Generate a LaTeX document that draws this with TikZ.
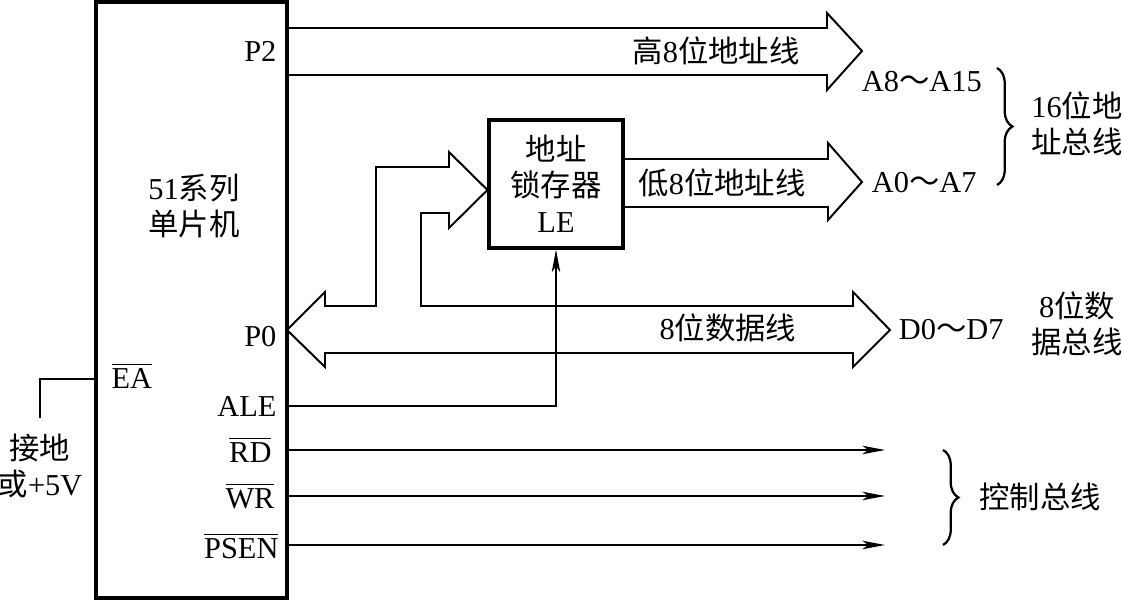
\documentclass[tikz,border=0pt]{standalone}
\usepackage{fontspec}
\setmainfont{Liberation Serif}
\newfontfamily\cjk{Noto Sans CJK SC}
\usetikzlibrary{arrows.meta,positioning,calc,decorations.pathreplacing}
\newcommand{\zh}[1]{{\cjk #1}}
\newcommand{\ovbar}[1]{$\overline{\hbox{#1}}$}
\tikzset{
  % microcontroller outline
  chipbox/.style={draw, line width=1.5pt, inner sep=0pt, outer sep=0pt},
  % address latch
  latchbox/.style={draw, line width=1.1pt, minimum width=1.675cm, minimum height=1.6cm,
                   align=center, inner sep=0pt, font=\fontsize{10.8}{12.8}\selectfont},
  % pin name inside the chip
  pinlabel/.style={anchor=east, inner sep=0pt},
  % outline of a wide bus arrow
  busline/.style={line width=0.7pt, line join=miter},
  % single signal wire
  sigline/.style={line width=0.7pt},
  sigarrow/.style={sigline, -{Stealth[length=8pt,width=3pt,inset=2pt]}},
  % curly bracket
  busbrace/.style={decorate, decoration={brace, amplitude=5.5pt}, line width=0.8pt},
}
\begin{document}
\begin{tikzpicture}[x=0.0125cm, y=-0.0125cm, font=\fontsize{10.8}{12.8}\selectfont]
  \useasboundingbox (0,0) rectangle (1122,601);
  % chip and latch
  \node[chipbox, minimum width=2.3875cm, minimum height=7.45cm] (mcu) at (191.5,300) {};
  \node[latchbox] (latch) at (556,184) {\zh{地址}\\\zh{锁存器}\\LE};
  \node[align=center, font=\fontsize{10.8}{13.1}\selectfont] (mcuname) at (194,206) {51\zh{系列}\\\zh{单片机}};

  % pin names
  \node[pinlabel] (lp2) at (277,51) {P2};
  \node[pinlabel] (lp0) at (277,337) {P0};
  \node[pinlabel] (lale) at (277,406) {ALE};
  \node[pinlabel] (lrd) at (272,450) {\ovbar{RD}};
  \node[pinlabel] (lwr) at (275,496) {\ovbar{WR}};
  \node[pinlabel] (lpsen) at (279,546) {\ovbar{PSEN}};
  \node[anchor=west, inner sep=0pt] (lea) at (111,376) {\ovbar{EA}};

  % pin points on the chip edge
  \coordinate (ea) at (96,379);
  \coordinate (ale) at (287,406);
  \coordinate (rd) at (287,450);
  \coordinate (wr) at (287,496);
  \coordinate (psen) at (287,545);
  \coordinate (ctrlend) at (885,0);

  % wide buses
  \draw[busline] (287,28) -- (827,28) -- (827,13) -- (862,51) -- (827,90) -- (827,75) -- (287,75);
  \draw[busline] (latch.east |- 0,159) -- (828,159) -- (828,143) -- (862,182) -- (828,220)
    -- (828,207) -- (latch.east |- 0,207);
  \draw[busline] (325,306) -- (376,306) -- (376,167) -- (449,167) -- (449,152) -- (latch.west |- 0,190)
    -- (449,228) -- (449,213) -- (421,213) -- (421,306) -- (853,306) -- (853,292) -- (890,330)
    -- (853,367) -- (853,353) -- (325,353) -- (325,367) -- (mcu.east |- 0,330) -- (325,292) -- cycle;

  % bus names
  \node (hiaddr) at (716,51) {\zh{高}8\zh{位地址线}};
  \node (loaddr) at (722,183) {\zh{低}8\zh{位地址线}};
  \node (data) at (728,328) {8\zh{位数据线}};
  \node[anchor=west] (a815) at (852,82) {A8\zh{～}A15};
  \node[anchor=west] (a07) at (862,183) {A0\zh{～}A7};
  \node[anchor=west] (d07) at (889,330) {D0\zh{～}D7};

  % signal wires
  \draw[sigarrow] (ale) -| (latch.south);
  \draw[sigarrow] (rd) -- (rd -| ctrlend);
  \draw[sigarrow] (wr) -- (wr -| ctrlend);
  \draw[sigarrow] (psen) -- (psen -| ctrlend);

  % EA strap
  \node[align=center] (gnd) at (40,466) {\zh{接地}\\\zh{或}+5V};
  \draw[sigline] (ea) -| ($(gnd.north)+(0,-6)$);

  % groups
  \draw[busbrace] (997,68) -- (997,185);
  \node[align=center] (addrbus) at (1077,124) {16\zh{位地}\\\zh{址总线}};
  \node[align=center] (databus) at (1077,324) {8\zh{位数}\\\zh{据总线}};
  \draw[busbrace] (943,450) -- (943,545);
  \node (ctrlbus) at (1040,497) {\zh{控制总线}};
\end{tikzpicture}
\end{document}
